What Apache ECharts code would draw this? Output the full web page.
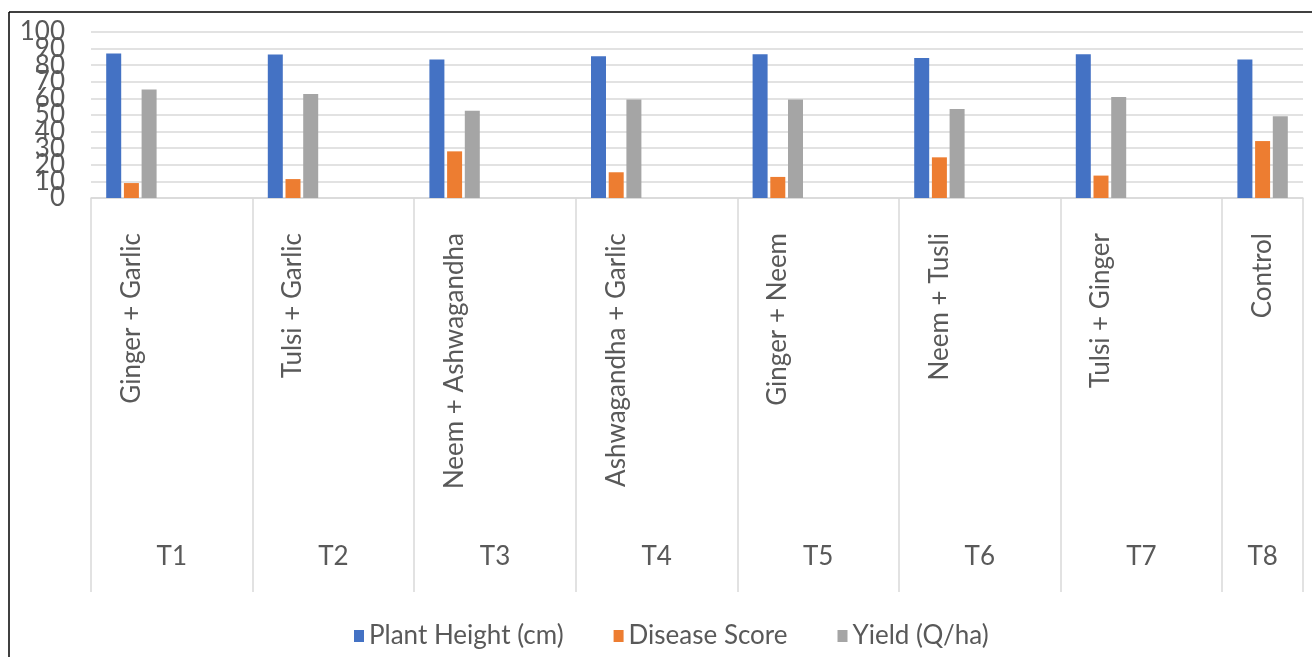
<!DOCTYPE html>
<html>
<head>
<meta charset="utf-8">
<script src="https://cdn.jsdelivr.net/npm/echarts@6/dist/echarts.min.js"></script>
<style>
  html, body { margin: 0; padding: 0; background: #fff; }
  #chart { width: 1312px; height: 657px; }
</style>
</head>
<body>
<div id="chart"></div>
<script>
// Treatment codes and their herbal combinations
const codes = ['T1', 'T2', 'T3', 'T4', 'T5', 'T6', 'T7', 'T8'];
const treatments = ['Ginger + Garlic', 'Tulsi + Garlic', 'Neem + Ashwagandha', 'Ashwagandha + Garlic',
                    'Ginger + Neem', 'Neem + Tusli', 'Tulsi + Ginger', 'Control'];

// Measured responses per treatment
const plantHeight = [87.0, 86.4, 83.5, 85.4, 86.6, 84.3, 86.6, 83.5];
const diseaseScore = [9.0, 11.4, 28.1, 15.5, 12.7, 24.5, 13.5, 34.3];
const yieldQha = [65.3, 62.6, 52.6, 59.3, 59.3, 53.6, 60.8, 49.2];

const seriesNames = ['Plant Height (cm)', 'Disease Score', 'Yield (Q/ha)'];
const yTicks = [0, 10, 20, 30, 40, 50, 60, 70, 80, 90, 100];

// Each treatment spans two half-width slots; the bars sit in the first one.
// The last treatment only shows its first slot.
const nSlots = codes.length * 2 - 1;
const slotLabels = [];
for (let s = 0; s < nSlots; s++) slotLabels.push(s % 2 === 0 ? treatments[s / 2] : '');
const toSlots = arr => {
  const out = [];
  for (let s = 0; s < nSlots; s++) out.push(s % 2 === 0 ? arr[s / 2] : '-');
  return out;
};

// Point axis (quarter slots) carrying the group codes and the divider ticks
const nPts = nSlots * 2 + 1;
const codeLabels = new Array(nPts).fill('');
codes.forEach((c, i) => {
  const k = i < codes.length - 1 ? i * 4 + 2 : nPts - 2;
  codeLabels[k] = c;
});

const FONT = 'Lato';
const textGray = '#595959';
const lineGray = '#d9d9d9';

// The large tick labels crowd each other, so alternate ticks are written by
// two stacked value axes sharing one scale.
const valueAxis = (parity, withGrid) => ({
  type: 'value',
  position: 'left',
  offset: 0,
  min: yTicks[0], max: yTicks[yTicks.length - 1], interval: yTicks[1] - yTicks[0],
  axisLine: { show: false },
  axisTick: { show: false },
  axisLabel: {
    margin: 26, fontFamily: FONT, fontSize: 26, color: textGray,
    showMinLabel: true, showMaxLabel: true,
    formatter: v => (yTicks.indexOf(v) % 2 === parity ? String(v) : '')
  },
  splitLine: { show: withGrid, lineStyle: { color: lineGray, width: 1.5 } }
});

const chart = echarts.init(document.getElementById('chart'), null, { renderer: 'canvas' });
chart.setOption({
  animation: false,
  backgroundColor: '#fff',
  color: ['#4472C4', '#ED7D31', '#A5A5A5'],
  grid: { left: 91, right: 9, top: 32, bottom: 459, containLabel: false },
  xAxis: [
    {
      type: 'category',
      data: slotLabels,
      position: 'bottom',
      boundaryGap: true,
      axisLine: { show: true, lineStyle: { color: lineGray, width: 1.5 } },
      axisTick: { show: false },
      axisLabel: {
        interval: 0, rotate: 90, margin: 35,
        fontFamily: FONT, fontSize: 26, color: textGray
      },
      splitLine: { show: false }
    },
    {
      type: 'category',
      data: codeLabels,
      position: 'bottom',
      boundaryGap: false,
      axisLine: { show: false },
      axisTick: {
        show: true, inside: false, length: 394,
        interval: (idx) => idx % 4 === 0 || idx === nPts - 1,
        lineStyle: { color: lineGray, width: 1.5 }
      },
      axisLabel: {
        interval: 0, margin: 346,
        fontFamily: FONT, fontSize: 26, color: textGray
      },
      splitLine: { show: false }
    }
  ],
  yAxis: [valueAxis(0, true), valueAxis(1, false)],
  legend: {
    left: 349, top: 618,
    itemWidth: 10, itemHeight: 12, itemGap: 50,
    icon: 'rect',
    textStyle: { fontFamily: FONT, fontSize: 26, color: textGray },
    data: seriesNames
  },
  series: [plantHeight, diseaseScore, yieldQha].map((vals, i) => ({
    name: seriesNames[i],
    type: 'bar',
    xAxisIndex: 0,
    yAxisIndex: 0,
    barWidth: 15,
    barGap: '18%',
    data: toSlots(vals)
  })),
  graphic: [
    { type: 'line', shape: { x1: 9, y1: 12, x2: 1312, y2: 12 }, style: { stroke: '#000', lineWidth: 1.5 } },
    { type: 'line', shape: { x1: 9, y1: 12, x2: 9, y2: 657 }, style: { stroke: '#000', lineWidth: 1.5 } }
  ]
});
</script>
</body>
</html>
